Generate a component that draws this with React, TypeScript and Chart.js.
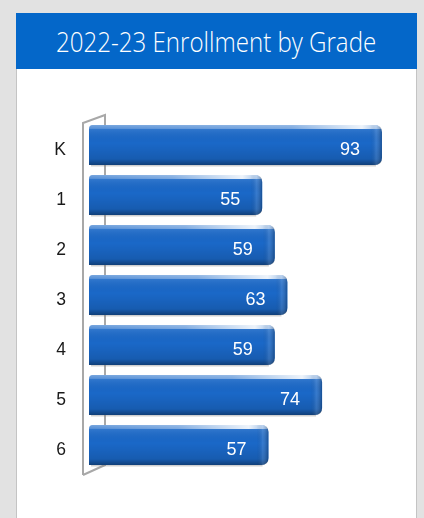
import React, { useEffect, useRef } from "react";
import { Chart, registerables } from "chart.js";

Chart.register(...registerables);

const TITLE = "2022-23 Enrollment by Grade";
const grades = ["K", "1", "2", "3", "4", "5", "6"];
const enrollment = [93, 55, 59, 63, 59, 74, 57];
const X_MIN = 0;
const X_MAX = 100;

function barPath(ctx: CanvasRenderingContext2D, l: number, t: number, r: number, b: number) {
  const rr = 7;
  const rl = 4;
  ctx.beginPath();
  ctx.moveTo(l + rl, t);
  ctx.lineTo(r - rr, t);
  ctx.quadraticCurveTo(r, t, r, t + rr);
  ctx.lineTo(r, b - rr);
  ctx.quadraticCurveTo(r, b, r - rr, b);
  ctx.lineTo(l, b);
  ctx.lineTo(l, t + rl);
  ctx.quadraticCurveTo(l, t, l + rl, t);
  ctx.closePath();
}

const wallPlugin = {
  id: "wall3d",
  beforeDatasetsDraw(chart: any) {
    const { ctx, chartArea } = chart;
    const { left, top, bottom } = chartArea;
    ctx.save();
    ctx.strokeStyle = "#a8a8a8";
    ctx.lineWidth = 2;
    ctx.beginPath();
    ctx.moveTo(left - 6, bottom + 5);
    ctx.lineTo(left - 6, top + 3);
    ctx.lineTo(left + 16, top - 5);
    ctx.lineTo(left + 16, bottom - 5);
    ctx.lineTo(left - 6, bottom + 5);
    ctx.stroke();
    ctx.restore();
  },
};

const bar3dPlugin = {
  id: "bar3d",
  afterDatasetsDraw(chart: any) {
    const { ctx } = chart;
    const meta = chart.getDatasetMeta(0);
    ctx.save();
    meta.data.forEach((el: any, i: number) => {
      const p = el.getProps(["x", "y", "base", "height"], true);
      const l = p.base;
      const r = p.x;
      const t = p.y - p.height / 2;
      const b = p.y + p.height / 2;

      // shadow under bar
      ctx.fillStyle = "rgba(120,120,120,0.35)";
      ctx.fillRect(l + 2, b, r - l - 8, 1.5);

      ctx.save();
      barPath(ctx, l, t, r, b);
      ctx.clip();

      // vertical shading
      const vg = ctx.createLinearGradient(0, t, 0, b);
      vg.addColorStop(0, "rgba(255,255,255,0.30)");
      vg.addColorStop(0.1, "rgba(255,255,255,0.10)");
      vg.addColorStop(0.45, "rgba(0,0,0,0)");
      vg.addColorStop(0.85, "rgba(0,0,0,0.12)");
      vg.addColorStop(1, "rgba(0,0,0,0.40)");
      ctx.fillStyle = vg;
      ctx.fillRect(l, t, r - l, b - t);

      // top highlight edge
      const hg = ctx.createLinearGradient(l, 0, r, 0);
      hg.addColorStop(0, "rgba(255,255,255,0.15)");
      hg.addColorStop(Math.max(0, 1 - 90 / (r - l)), "rgba(255,255,255,0.35)");
      hg.addColorStop(Math.max(0, 1 - 20 / (r - l)), "rgba(255,255,255,0.9)");
      hg.addColorStop(1, "rgba(255,255,255,0.4)");
      ctx.fillStyle = hg;
      ctx.fillRect(l, t, r - l, 4);

      // right end bevel
      const rg = ctx.createLinearGradient(r - 12, 0, r, 0);
      rg.addColorStop(0, "rgba(0,0,0,0)");
      rg.addColorStop(0.5, "rgba(255,255,255,0.12)");
      rg.addColorStop(1, "rgba(0,0,0,0.25)");
      ctx.fillStyle = rg;
      ctx.fillRect(r - 12, t, 12, b - t);
      ctx.restore();

      // value label
      ctx.fillStyle = "#ffffff";
      ctx.font = "18px 'Liberation Sans', Arial, sans-serif";
      ctx.textAlign = "right";
      ctx.textBaseline = "middle";
      ctx.fillText(String(enrollment[i]), r - 22, p.y + 5);
    });
    ctx.restore();
  },
};

export default function App() {
  const canvasRef = useRef<HTMLCanvasElement | null>(null);

  useEffect(() => {
    if (!canvasRef.current) return;
    const chart = new Chart(canvasRef.current, {
      type: "bar",
      data: {
        labels: grades,
        datasets: [
          {
            data: enrollment,
            backgroundColor: "#1a68c8",
            borderWidth: 0,
            borderRadius: { topLeft: 4, topRight: 7, bottomRight: 7, bottomLeft: 0 },
            borderSkipped: false,
            barPercentage: 0.8,
            categoryPercentage: 1,
          },
        ],
      },
      options: {
        indexAxis: "y",
        animation: false,
        responsive: true,
        maintainAspectRatio: false,
        layout: { padding: { left: 0, right: 11, top: 50, bottom: 48 } },
        plugins: { legend: { display: false }, tooltip: { enabled: false }, title: { display: false } },
        scales: {
          x: { display: false, min: X_MIN, max: X_MAX },
          y: {
            grid: { display: false, drawTicks: false },
            border: { display: false },
            ticks: {
              padding: 23,
              labelOffset: 5,
              color: "#1a1a1a",
              font: { family: "'Liberation Sans', Arial, sans-serif", size: 17.5 },
            },
            afterFit: (scale: any) => {
              scale.width = 72;
            },
          },
        },
      },
      plugins: [wallPlugin, bar3dPlugin],
    });
    return () => chart.destroy();
  }, []);

  return (
    <div style={{ position: "fixed", inset: 0, background: "#e2e2e2", overflow: "hidden" }}>
      <div
        style={{
          position: "absolute",
          left: 16,
          top: 13,
          width: 401,
          height: 520,
          background: "#ffffff",
          borderLeft: "1px solid #c4c4c4",
          borderRight: "1px solid #c4c4c4",
          boxSizing: "border-box",
        }}
      />
      <div
        style={{
          position: "absolute",
          left: 16,
          top: 13,
          width: 401,
          height: 56,
          background: "#0467c9",
          color: "#ffffff",
          display: "flex",
          alignItems: "center",
          justifyContent: "center",
          fontFamily: "'Open Sans', sans-serif",
          fontWeight: 300,
          fontSize: 28,
        }}
      >
        <span style={{ display: "inline-block", transform: "scaleX(0.86)", whiteSpace: "nowrap" }}>{TITLE}</span>
      </div>
      <div style={{ position: "absolute", left: 17, top: 70, width: 398, height: 448 }}>
        <canvas ref={canvasRef} />
      </div>
    </div>
  );
}
